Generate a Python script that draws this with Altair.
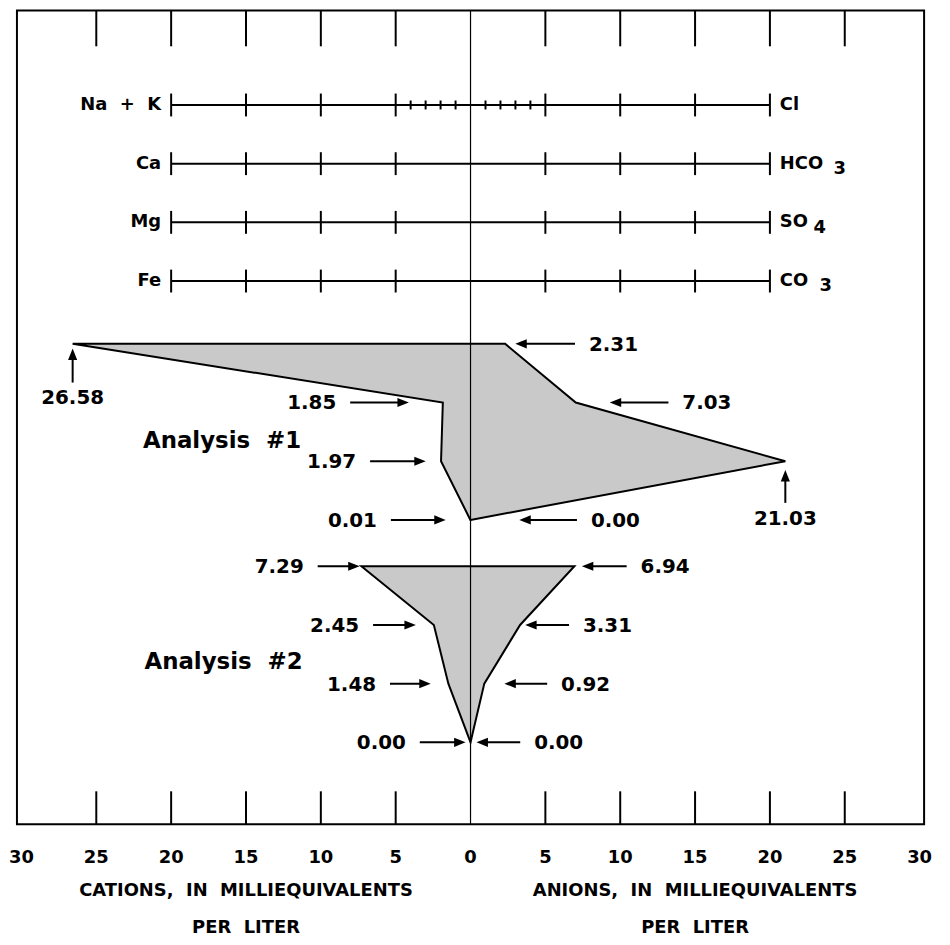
import altair as alt
import pandas as pd

# ---------------- data ----------------
CATION_NAMES = ["Na\u00a0 +\u00a0 K", "Ca", "Mg", "Fe"]
ANION_NAMES = ["Cl", "HCO", "SO", "CO"]
ANION_SUBSCRIPTS = ["", "3", "4", "3"]
AXIS_TICKS = [-30, -25, -20, -15, -10, -5, 0, 5, 10, 15, 20, 25, 30]
FRAME_TICKS = [-25, -20, -15, -10, -5, 5, 10, 15, 20, 25]
KEY_MAJOR_TICKS = [-20, -15, -10, -5, 5, 10, 15, 20]
KEY_MINOR_TICKS = [-4, -3, -2, -1, 1, 2, 3, 4]
ANALYSIS_NAMES = ["Analysis\u00a0 #1", "Analysis\u00a0 #2"]
A1_CATIONS = [26.58, 1.85, 1.97, 0.01]
A1_ANIONS = [2.31, 7.03, 21.03, 0.00]
A2_CATIONS = [7.29, 2.45, 1.48, 0.00]
A2_ANIONS = [6.94, 3.31, 0.92, 0.00]
TITLE_LINES = ["CATIONS,\u00a0 IN\u00a0 MILLIEQUIVALENTS", "PER\u00a0 LITER",
               "ANIONS,\u00a0 IN\u00a0 MILLIEQUIVALENTS", "PER\u00a0 LITER"]

# ---------------- layout / style ----------------
W, H = 912, 818
FONT = "DejaVu Sans"
XS = alt.Scale(domain=[-30.3, 30.3], nice=False, zero=False)
YS = alt.Scale(domain=[-1.61, 12.254], nice=False, zero=False, reverse=True)
KEY_ROWS = [0, 1, 2, 3]
ANALYSIS_BASE = [4.07, 7.86]
ANALYSIS_LABEL_AT = [(-16.6, 5.73), (-16.5, 9.49)]
SUB_X = [0, 4.25, 2.92, 3.32]
SUB_DROP = 0.09
TITLE_X = [-15, -15, 15, 15]
TITLE_Y = [885, 922, 885, 922]
TICK_LABEL_Y = 852
# arrow layout: ("h", gap from vertex, length) in meq, ("v", drop, length) in rows
ARROWS = [
    {"cat": [("v", 0.08, 0.58), ("h", 2.27, 3.92), ("h", 1.02, 3.72), ("h", 1.65, 3.66)],
     "an": [("h", 0.68, 3.99), ("h", 2.27, 3.92), ("v", 0.15, 0.56), ("h", 3.26, 3.85)]},
    {"cat": [("h", 0.12, 2.8), ("h", 1.2, 2.86), ("h", 1.18, 2.72), ("h", 0.33, 3.06)],
     "an": [("h", 0.5, 2.99), ("h", 0.34, 2.93), ("h", 1.34, 2.86), ("h", 0.4, 2.92)]},
]
V_TEXT_GAP = 0.27
HEAD_BACK = 0.45
FILL = "#c9c9c9"

HEAD_PATHS = {"right": "M0,0L-1,-0.4L-1,0.4Z",
              "left": "M0,0L1,-0.4L1,0.4Z",
              "up": "M0,0L-0.4,1L0.4,1Z"}
HEAD_SIZE = 529

ANALYSES = [(A1_CATIONS, A1_ANIONS), (A2_CATIONS, A2_ANIONS)]

# ---------------- tables ----------------
area_rows = []
rules, heads, t_left, t_right, t_center = [], [], [], [], []
for i, (cats, ans) in enumerate(ANALYSES):
    base = ANALYSIS_BASE[i]
    for k in range(4):
        row = base + k
        area_rows.append({"analysis": ANALYSIS_NAMES[i], "row": row,
                          "xl": -cats[k], "xr": ans[k]})
        for side, vals, sign in (("cat", cats, -1), ("an", ans, 1)):
            kind, a, b = ARROWS[i][side][k]
            v = vals[k]
            lab = f"{v:.2f}"
            xv = sign * v
            if kind == "h":
                head = xv + sign * a
                tail = head + sign * b
                rules.append({"x": tail, "x2": head + sign * HEAD_BACK, "y": row, "y2": row})
                heads.append({"x": head, "y": row, "dir": "right" if sign < 0 else "left"})
                (t_left if sign < 0 else t_right).append({"x": tail, "y": row, "text": lab})
            else:
                rules.append({"x": xv, "x2": xv, "y": row + a + b, "y2": row + a + 0.12})
                heads.append({"x": xv, "y": row + a, "dir": "up"})
                t_center.append({"x": xv, "y": row + a + b + V_TEXT_GAP, "text": lab})

area_df = pd.DataFrame(area_rows)
rules_df = pd.DataFrame(rules)
heads_df = pd.DataFrame(heads)

X = lambda f: alt.X(f, scale=XS, axis=None)
Y = lambda f: alt.Y(f, scale=YS, axis=None)

layers = []

# shaded Stiff polygons
layers.append(
    alt.Chart(area_df).mark_area(orient="horizontal", fill=FILL, stroke="black",
                                 strokeWidth=2, strokeJoin="miter", opacity=1)
    .encode(y=Y("row:Q"), x=alt.X("xl:Q", scale=XS, axis=None, stack=None),
            x2="xr:Q", detail="analysis:N")
)

# centre line
layers.append(
    alt.Chart(pd.DataFrame({"x": [0]})).mark_rule(color="black", strokeWidth=1.2)
    .encode(x=X("x:Q"), y=alt.value(0), y2=alt.value(H))
)

# frame ticks (top and bottom)
ft = pd.DataFrame({"x": FRAME_TICKS})
layers.append(alt.Chart(ft).mark_rule(color="black", strokeWidth=2)
              .encode(x=X("x:Q"), y=alt.value(0), y2=alt.value(36)))
layers.append(alt.Chart(ft).mark_rule(color="black", strokeWidth=2)
              .encode(x=X("x:Q"), y=alt.value(H - 33), y2=alt.value(H)))

# key rows
key_df = pd.DataFrame({"row": KEY_ROWS, "x1": [-20] * 4, "x2": [20] * 4,
                       "cat": CATION_NAMES, "an": ANION_NAMES})
layers.append(alt.Chart(key_df).mark_rule(color="black", strokeWidth=2)
              .encode(x=X("x1:Q"), x2="x2:Q", y=Y("row:Q")))
maj_df = pd.DataFrame([{"x": t, "row": r} for r in KEY_ROWS for t in KEY_MAJOR_TICKS])
layers.append(alt.Chart(maj_df).mark_tick(orient="vertical", size=23, thickness=2,
                                          color="black", opacity=1)
              .encode(x=X("x:Q"), y=Y("row:Q")))
min_df = pd.DataFrame([{"x": t, "row": KEY_ROWS[0]} for t in KEY_MINOR_TICKS])
layers.append(alt.Chart(min_df).mark_tick(orient="vertical", size=9, thickness=2,
                                          color="black", opacity=1)
              .encode(x=X("x:Q"), y=Y("row:Q")))

txt = dict(font=FONT, fontWeight="bold", color="black")
layers.append(alt.Chart(key_df).mark_text(align="right", baseline="middle", dx=-10,
                                          fontSize=18, **txt)
              .encode(x=X("x1:Q"), y=Y("row:Q"), text="cat:N"))
layers.append(alt.Chart(key_df).mark_text(align="left", baseline="middle", dx=10,
                                          fontSize=18, **txt)
              .encode(x=X("x2:Q"), y=Y("row:Q"), text="an:N"))
sub_df = pd.DataFrame([{"x": 20 + SUB_X[k], "row": KEY_ROWS[k] + SUB_DROP,
                        "t": ANION_SUBSCRIPTS[k]} for k in range(4) if ANION_SUBSCRIPTS[k]])
layers.append(alt.Chart(sub_df).mark_text(align="left", baseline="middle",
                                          fontSize=18, **txt)
              .encode(x=X("x:Q"), y=Y("row:Q"), text="t:N"))

# arrows
layers.append(alt.Chart(rules_df).mark_rule(color="black", strokeWidth=2)
              .encode(x=X("x:Q"), x2="x2:Q", y=Y("y:Q"), y2="y2:Q"))
layers.append(
    alt.Chart(heads_df).mark_point(filled=True, size=HEAD_SIZE, opacity=1, strokeWidth=0,
                                   color="black")
    .encode(x=X("x:Q"), y=Y("y:Q"),
            shape=alt.Shape("dir:N", scale=alt.Scale(domain=list(HEAD_PATHS.keys()),
                                                     range=list(HEAD_PATHS.values())),
                            legend=None))
)

# value labels
layers.append(alt.Chart(pd.DataFrame(t_left)).mark_text(align="right", baseline="middle",
                                                        dx=-14, dy=1, fontSize=20, **txt)
              .encode(x=X("x:Q"), y=Y("y:Q"), text="text:N"))
layers.append(alt.Chart(pd.DataFrame(t_right)).mark_text(align="left", baseline="middle",
                                                         dx=14, dy=1, fontSize=20, **txt)
              .encode(x=X("x:Q"), y=Y("y:Q"), text="text:N"))
layers.append(alt.Chart(pd.DataFrame(t_center)).mark_text(align="center", baseline="middle",
                                                          fontSize=20, **txt)
              .encode(x=X("x:Q"), y=Y("y:Q"), text="text:N"))

# analysis labels
an_df = pd.DataFrame({"name": ANALYSIS_NAMES,
                      "x": [p[0] for p in ANALYSIS_LABEL_AT],
                      "y": [p[1] for p in ANALYSIS_LABEL_AT]})
layers.append(alt.Chart(an_df).mark_text(align="center", baseline="middle",
                                         fontSize=23, **txt)
              .encode(x=X("x:Q"), y=Y("y:Q"), text="name:N"))

# bottom scale labels
tl_df = pd.DataFrame({"x": AXIS_TICKS, "t": [str(abs(v)) for v in AXIS_TICKS]})
layers.append(alt.Chart(tl_df).mark_text(align="center", baseline="middle",
                                         fontSize=18, **txt)
              .encode(x=X("x:Q"), y=alt.value(TICK_LABEL_Y), text="t:N"))

# axis titles
for k in range(4):
    layers.append(
        alt.Chart(pd.DataFrame({"x": [TITLE_X[k]], "t": [TITLE_LINES[k]]}))
        .mark_text(align="center", baseline="middle", fontSize=18, **txt)
        .encode(x=X("x:Q"), y=alt.value(TITLE_Y[k]), text="t:N")
    )

chart = (
    alt.layer(*layers)
    .properties(width=W, height=H,
                autosize=alt.AutoSizeParams(type="none"),
                padding={"left": 9, "top": 0, "right": 18, "bottom": 118})
    .configure_view(stroke="black", strokeWidth=2)
)

chart.save("out.html", embed_options={"renderer": "svg", "actions": False})
